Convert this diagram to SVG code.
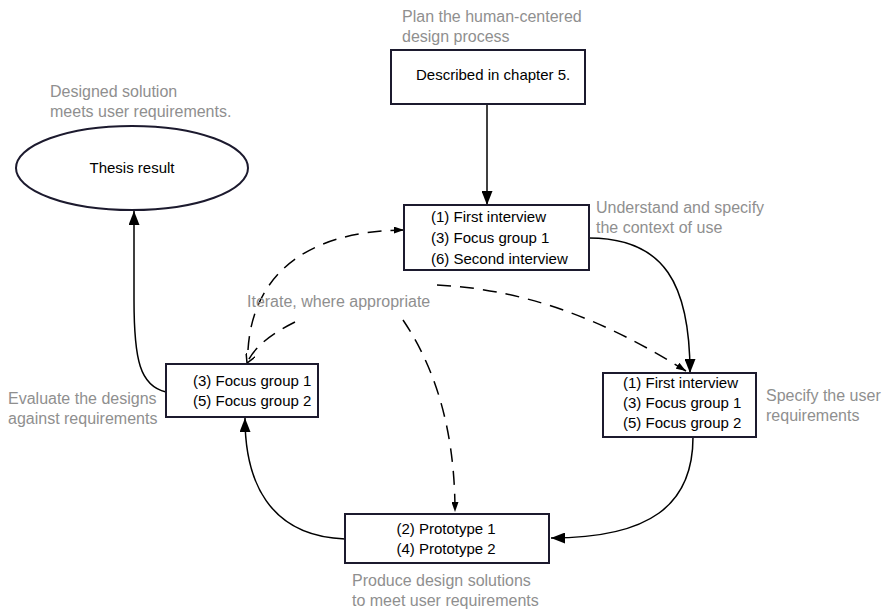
<svg xmlns="http://www.w3.org/2000/svg" width="885" height="611" viewBox="0 0 885 611">
<style>
.box{fill:#fff;stroke:#1c1a2e;stroke-width:2}
.t{font-family:"Liberation Sans",Arial,sans-serif;font-size:15px;fill:#000}
.g{font-family:"Liberation Sans",Arial,sans-serif;font-size:16px;fill:#8f8f8f}
.c{fill:none;stroke:#000;stroke-width:1.5}
.d{fill:none;stroke:#000;stroke-width:1.5;stroke-dasharray:14 9}
</style>
<defs>
<marker id="big" viewBox="0 0 14 11" refX="14" refY="5.5" markerWidth="14" markerHeight="11" markerUnits="userSpaceOnUse" orient="auto"><path d="M0,0 L14,5.5 L0,11 z" fill="#000"/></marker>
<marker id="sm" viewBox="0 0 10 7" refX="10" refY="3.5" markerWidth="10" markerHeight="7" markerUnits="userSpaceOnUse" orient="auto"><path d="M0,0 L10,3.5 L0,7 z" fill="#000"/></marker>
<marker id="open" viewBox="0 0 10 10" refX="9" refY="5" markerWidth="10" markerHeight="10" markerUnits="userSpaceOnUse" orient="auto"><path d="M0,0 L9,5 L0,10" fill="none" stroke="#000" stroke-width="1.5"/></marker>
</defs>

<g id="connectors">
<path class="c" d="M487,104 L487,205" marker-end="url(#big)"/>
<path class="c" d="M589,238 C665,238 690,285 690,373" marker-end="url(#big)"/>
<path class="c" d="M693,437 C693,505 650,538 551,538" marker-end="url(#big)"/>
<path class="c" d="M345,539 C268,536 245,480 245,418" marker-end="url(#big)"/>
<path class="c" d="M166,392 C140,386 134,360 134,300 L134,211" marker-end="url(#big)"/>
<path class="d" d="M248,350 C252,282 298,231 404,230" marker-end="url(#sm)"/>
<path class="d" d="M295,322 C275,332 255,345 247,363" marker-end="url(#open)"/>
<path class="d" d="M437,285 C540,290 620,330 686,371" marker-end="url(#sm)"/>
<path class="d" d="M403,320 C430,360 455,420 455,512" marker-end="url(#sm)"/>
</g>

<g id="plan">
<rect class="box" x="391" y="50" width="194" height="54"/>
<text class="t" x="416" y="80">Described in chapter 5.</text>
<text class="g" x="402" y="22">Plan the human-centered</text>
<text class="g" x="402" y="42">design process</text>
</g>

<g id="result">
<ellipse cx="132" cy="168" rx="116" ry="42" fill="#fff" stroke="#1c1a2e" stroke-width="2"/>
<text class="t" x="132" y="173" text-anchor="middle">Thesis result</text>
<text class="g" x="50" y="97">Designed solution</text>
<text class="g" x="50" y="117">meets user requirements.</text>
</g>

<g id="context">
<rect class="box" x="404" y="205" width="185" height="65"/>
<text class="t" x="431" y="222">(1) First interview</text>
<text class="t" x="431" y="243">(3) Focus group 1</text>
<text class="t" x="431" y="264">(6) Second interview</text>
<text class="g" x="596" y="213">Understand and specify</text>
<text class="g" x="596" y="233">the context of use</text>
</g>

<g id="requirements">
<rect class="box" x="603" y="373" width="153" height="64"/>
<text class="t" x="623" y="388">(1) First interview</text>
<text class="t" x="623" y="408">(3) Focus group 1</text>
<text class="t" x="623" y="428">(5) Focus group 2</text>
<text class="g" x="766" y="401">Specify the user</text>
<text class="g" x="766" y="421">requirements</text>
</g>

<g id="evaluate">
<rect class="box" x="166" y="364" width="152" height="53"/>
<text class="t" x="193" y="386">(3) Focus group 1</text>
<text class="t" x="193" y="406">(5) Focus group 2</text>
<text class="g" x="8" y="404">Evaluate the designs</text>
<text class="g" x="8" y="424">against requirements</text>
</g>

<g id="produce">
<rect class="box" x="345" y="514" width="204" height="49"/>
<text class="t" x="446" y="534" text-anchor="middle">(2) Prototype 1</text>
<text class="t" x="446" y="554" text-anchor="middle">(4) Prototype 2</text>
<text class="g" x="352" y="586">Produce design solutions</text>
<text class="g" x="352" y="606">to meet user requirements</text>
</g>

<g id="iterate">
<text class="g" x="247" y="307">Iterate, where appropriate</text>
</g>
</svg>
